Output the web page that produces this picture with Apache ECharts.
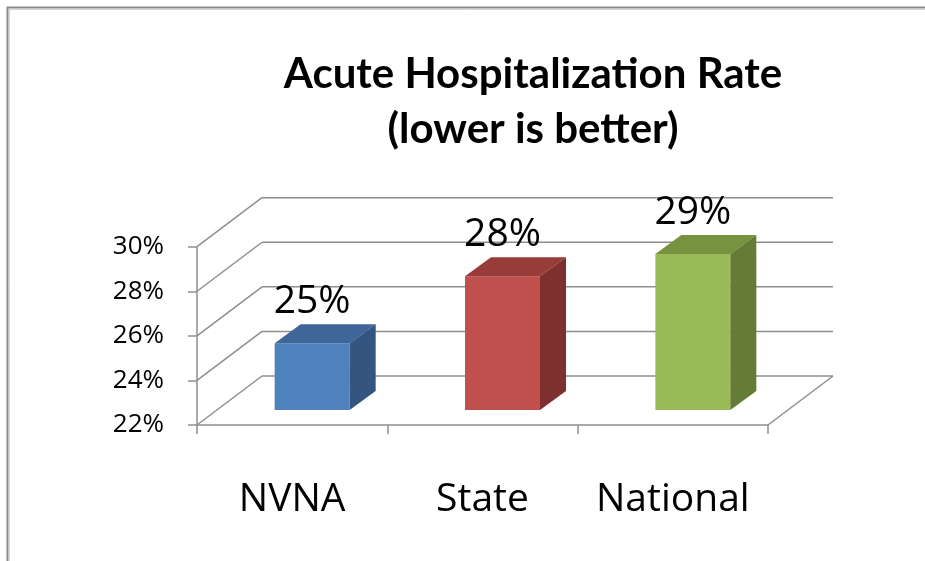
<!DOCTYPE html>
<html>
<head>
<meta charset="utf-8">
<title>Acute Hospitalization Rate</title>
<script src="https://cdn.jsdelivr.net/npm/echarts@6/dist/echarts.min.js"></script>
<style>
  html, body { margin: 0; padding: 0; background: #ffffff; }
  #chart { width: 925px; height: 561px; }
</style>
</head>
<body>
<div id="chart"></div>
<script>
// data
const categories = ["NVNA", "State", "National"];
const rates = [25, 28, 29];
const barColors = [
  { front: "#4F81BD", top: "#3E6698", side: "#33557F" },
  { front: "#C0504D", top: "#983C39", side: "#7E302E" },
  { front: "#9BBB59", top: "#77933F", side: "#647C35" }
];
const yTicks = [22, 24, 26, 28, 30];

// 3d look (pixels)
const WALL_DX = 65, WALL_DY = -49;   // back wall offset
const BAR_DX = 20, BAR_DY = -15;     // bar front face offset
const DEPTH_DX = 26, DEPTH_DY = -19; // bar depth
const BAR_W = 75;
const LINE = "#8E8E8E";

const chart = echarts.init(document.getElementById("chart"), null, { renderer: "canvas" });

const option = {
  animation: false,
  backgroundColor: "#ffffff",
  title: {
    text: "Acute Hospitalization Rate\n(lower is better)",
    left: 528,
    top: 42,
    textAlign: "center",
    textStyle: {
      fontFamily: "Lato",
      fontWeight: "bold",
      fontSize: 42,
      lineHeight: 55,
      color: "#000000"
    }
  },
  graphic: [
    {
      type: "polyline",
      shape: { points: [[7.5, 561], [7.5, 7.5], [925, 7.5]] },
      style: { stroke: "#8A8A8A", lineWidth: 2, fill: null }
    },
    {
      type: "polyline",
      shape: { points: [[9.5, 561], [9.5, 9.5], [925, 9.5]] },
      style: { stroke: "#D6D6D6", lineWidth: 1, fill: null }
    }
  ],
  grid: {
    left: 197,
    right: 157,
    top: 246.7,
    bottom: 136
  },
  xAxis: {
    type: "category",
    data: categories,
    boundaryGap: true,
    axisLine: { show: true, lineStyle: { color: LINE, width: 1.5 } },
    axisTick: { show: true, interval: 0, length: 9, lineStyle: { color: LINE, width: 1.5 } },
    axisLabel: {
      interval: 0,
      margin: 55,
      fontFamily: "Open Sans",
      fontSize: 39,
      color: "#000000"
    }
  },
  yAxis: {
    type: "value",
    min: 22,
    max: 30,
    interval: 2,
    axisLine: { show: true, lineStyle: { color: LINE, width: 1.5 } },
    axisTick: { show: true, length: 9, lineStyle: { color: LINE, width: 1.5 } },
    splitLine: { show: false },
    axisLabel: {
      margin: 33,
      formatter: "{value}%",
      fontFamily: "Open Sans",
      fontSize: 26,
      color: "#000000"
    }
  },
  series: [
    {
      // side wall diagonals, back wall lines and floor edge
      type: "custom",
      z: 1,
      silent: true,
      data: yTicks.map(v => [0, v]),
      renderItem: (params, api) => {
        const v = api.value(1);
        const band = api.size([1, 0])[0];
        const y = api.coord([0, v])[1];
        const x0 = api.coord([0, v])[0] - band / 2;
        const x1 = api.coord([categories.length - 1, v])[0] + band / 2;
        const style = { stroke: LINE, lineWidth: 1.5 };
        const children = [
          { type: "line", shape: { x1: x0, y1: y, x2: x0 + WALL_DX, y2: y + WALL_DY }, style },
          { type: "line", shape: { x1: x0 + WALL_DX, y1: y + WALL_DY, x2: x1 + WALL_DX, y2: y + WALL_DY }, style }
        ];
        if (params.dataIndex === 0) {
          children.push({ type: "line", shape: { x1: x1, y1: y, x2: x1 + WALL_DX, y2: y + WALL_DY }, style });
        }
        return { type: "group", children };
      }
    },
    {
      // 3d bars
      type: "custom",
      z: 3,
      data: rates.map((v, i) => [i, v]),
      renderItem: (params, api) => {
        const i = api.value(0);
        const v = api.value(1);
        const c = barColors[i];
        const top = api.coord([i, v]);
        const base = api.coord([i, 22]);
        const xl = top[0] - BAR_W / 2 + BAR_DX;
        const xr = xl + BAR_W;
        const yt = top[1] + BAR_DY;
        const yb = base[1] + BAR_DY;
        return {
          type: "group",
          children: [
            { type: "rect", shape: { x: xl, y: yt, width: BAR_W, height: yb - yt }, style: { fill: c.front } },
            {
              type: "polygon",
              shape: { points: [[xl, yt], [xr, yt], [xr + DEPTH_DX, yt + DEPTH_DY], [xl + DEPTH_DX, yt + DEPTH_DY]] },
              style: { fill: c.top }
            },
            {
              type: "polygon",
              shape: { points: [[xr, yt], [xr + DEPTH_DX, yt + DEPTH_DY], [xr + DEPTH_DX, yb + DEPTH_DY], [xr, yb]] },
              style: { fill: c.side }
            },
            {
              type: "text",
              style: {
                x: xl + BAR_W / 2,
                y: yt + DEPTH_DY - 3,
                text: v + "%",
                align: "center",
                verticalAlign: "bottom",
                fontFamily: "Open Sans",
                fontSize: 39,
                fill: "#000000"
              }
            }
          ]
        };
      }
    }
  ]
};

chart.setOption(option);
window.addEventListener("resize", () => chart.resize());
</script>
</body>
</html>
